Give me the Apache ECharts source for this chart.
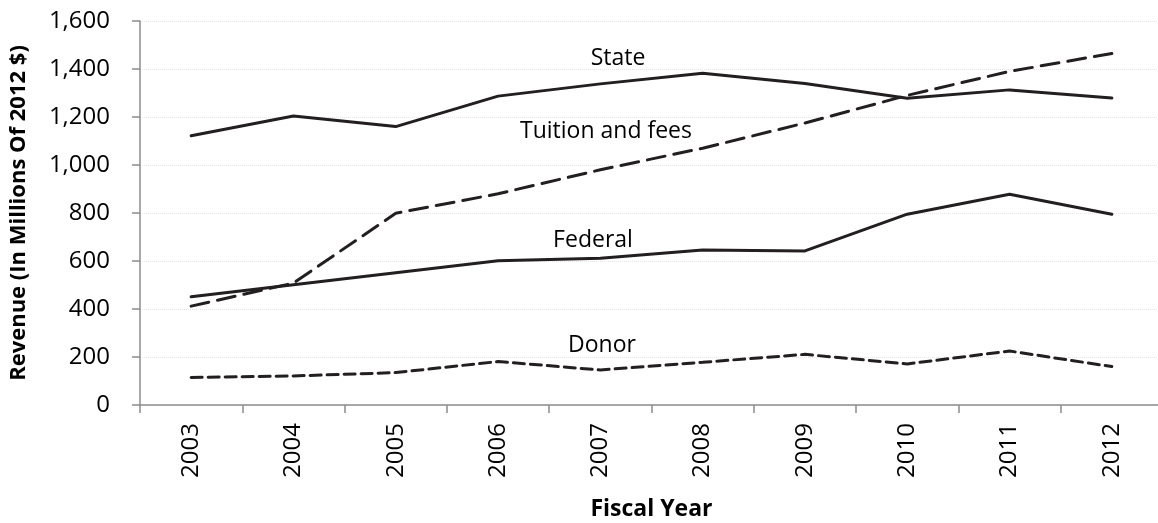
<!DOCTYPE html>
<html><head><meta charset="utf-8">
<script src="https://cdn.jsdelivr.net/npm/echarts@6/dist/echarts.min.js"></script>
<style>html,body{margin:0;padding:0;background:#fff}#c{width:1158px;height:523px}</style>
</head><body><div id="c"></div>
<script>
var years = ['2003','2004','2005','2006','2007','2008','2009','2010','2011','2012'];
var stateVals = [1122, 1204, 1160, 1287, 1338, 1382, 1340, 1278, 1313, 1279];
var tuitionVals = [412, 508, 799, 880, 980, 1070, 1175, 1290, 1390, 1465];
var federalVals = [451, 501, 551, 601, 611, 646, 642, 795, 878, 795];
var donorVals = [115, 121, 135, 181, 146, 178, 211, 171, 225, 160];
var yTicks = [0, 200, 400, 600, 800, 1000, 1200, 1400, 1600];

var FONT = '"Open Sans", sans-serif';
var ink = '#231f20';
var chart = echarts.init(document.getElementById('c'));
function fmt(v){ return v.toLocaleString('en-US'); }
function lineSeries(name, data, type){
  return {name:name, type:'line', data:data, symbol:'none', animation:false,
    lineStyle:{color:ink, width:3, type:type, cap:'round'}};
}
function note(text, x, y){
  return {type:'text', x:x, y:y, style:{text:text, fontSize:23, fontFamily:FONT, fill:'#000',
    align:'center', verticalAlign:'middle'}};
}
chart.setOption({
  animation:false,
  grid:{left:140, top:21, width:1023, height:384, containLabel:false, outerBoundsMode:'none'},
  xAxis:{type:'category', data:years, boundaryGap:true,
    axisLine:{lineStyle:{color:'#8c8c8c', width:1.5}},
    axisTick:{show:true, length:8, lineStyle:{color:'#8c8c8c', width:1.5}},
    axisLabel:{rotate:90, margin:18, color:'#000', fontSize:24, fontFamily:FONT},
    name:'Fiscal Year', nameLocation:'middle', nameGap:93,
    nameTextStyle:{color:'#000', fontSize:23, fontWeight:'bold', fontFamily:FONT}
  },
  yAxis:{type:'value', min:yTicks[0], max:yTicks[yTicks.length-1], interval:200,
    axisLine:{show:true, lineStyle:{color:'#8c8c8c', width:1.5}},
    axisTick:{show:true, length:8, lineStyle:{color:'#8c8c8c', width:1.5}},
    splitLine:{show:true, lineStyle:{color:'#e6e6e6', width:1, type:'dotted'}},
    axisLabel:{margin:30, color:'#000', fontSize:24, fontFamily:FONT, formatter:fmt},
    name:'Revenue (In Millions Of 2012 $)', nameLocation:'middle', nameGap:110, nameRotate:90,
    nameTextStyle:{color:'#000', fontSize:22, fontWeight:'bold', fontFamily:FONT}
  },
  series:[
    lineSeries('State', stateVals, 'solid'),
    lineSeries('Tuition and fees', tuitionVals, [18, 9]),
    lineSeries('Federal', federalVals, 'solid'),
    lineSeries('Donor', donorVals, [11, 6])
  ],
  graphic:[
    note('State', 618, 58),
    note('Tuition and fees', 606, 131),
    note('Federal', 593, 240),
    note('Donor', 602, 345)
  ]
});
</script></body></html>
